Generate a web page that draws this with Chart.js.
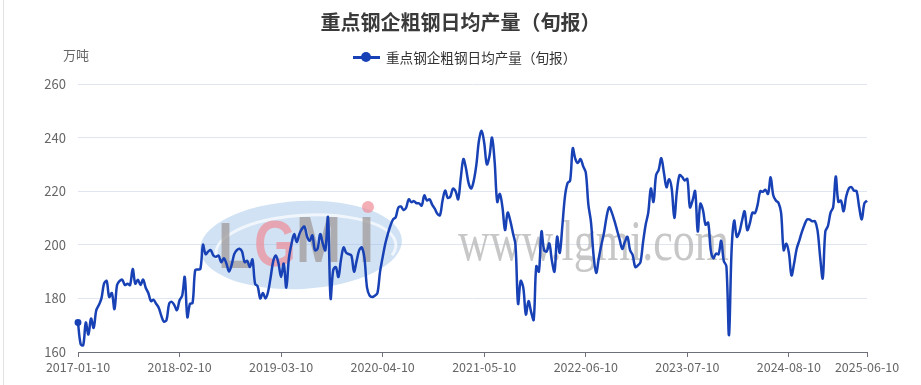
<!DOCTYPE html>
<html>
<head>
<meta charset="utf-8">
<script src="https://cdn.jsdelivr.net/npm/chart.js@4.4.1/dist/chart.umd.min.js"></script>
<style>
  html, body { margin: 0; padding: 0; background: #fff; }
  #wrap { position: relative; width: 921px; height: 385px; overflow: hidden; font-family: "Noto Sans CJK SC", "Noto Sans", sans-serif; }
  #edge { position: absolute; left: 3px; top: 0; width: 1px; height: 385px; background: #e2e2e2; }
  #title { position: absolute; left: 0; width: 921px; top: 7px; text-align: center; font-size: 20px; font-weight: bold; color: #3a3a3a; }
  #unit { position: absolute; left: 63px; top: 45px; font-size: 13px; color: #666; }
  #legend { position: absolute; left: 353px; top: 47px; font-size: 13.6px; color: #333; display: flex; align-items: center; }
  #legend .ico { position: relative; width: 27px; height: 14px; margin-right: 6px; }
  #legend .ico i { position: absolute; left: 0; top: 6px; width: 27px; height: 2.5px; background: #1741b5; }
  #legend .ico b { position: absolute; left: 8px; top: 2px; width: 10px; height: 10px; border-radius: 50%; background: #1741b5; }
  canvas { position: absolute; left: 0; top: 0; }
</style>
</head>
<body>
<div id="wrap">
  <div id="edge"></div>
  <canvas id="chart" width="921" height="385"></canvas>
  <div id="title">重点钢企粗钢日均产量（旬报）</div>
  <div id="unit">万吨</div>
  <div id="legend"><span class="ico"><i></i><b></b></span>重点钢企粗钢日均产量（旬报）</div>
</div>
<script>
// 旬度日期 2017-01-10 ~ 2025-06-10
const labels = [];
for (let y = 2017; y <= 2025; y++) {
  for (let m = 1; m <= 12; m++) {
    const mm = String(m).padStart(2, '0');
    const last = new Date(y, m, 0).getDate();
    [10, 20, last].forEach(d => labels.push(`${y}-${mm}-${d}`));
  }
}
labels.splice(labels.indexOf('2025-06-10') + 1);

const output = [
  171, 163, 162.5, 171, 166.5, 172.5, 169, 175.5, 177.5, 180,
  185.5, 186.5, 180.5, 182, 176, 185, 186.5, 187, 185, 185.5,
  185, 191, 185.5, 187, 185, 187, 184, 182, 179, 179.5,
  178, 176.5, 173.5, 171.3, 172, 178, 178.7, 177.5, 175.6, 179.3,
  181, 188, 173, 178, 178.3, 190.5, 190.8, 191, 200, 196.5,
  197.5, 198, 196, 195.5, 196, 193.5, 195, 193, 190, 192.5,
  196.5, 198, 198.5, 197.5, 193.5, 194, 191.7, 194.5, 185.5, 184.5,
  180, 182, 180, 182.5, 188, 194, 196, 193, 188, 193,
  184, 195, 200.4, 204, 201, 204, 206, 206.8, 203, 201.5,
  203.5, 198, 198.5, 204, 200.5, 198, 210.3, 180, 190.5, 191.7,
  188, 194.5, 199, 197, 196.5, 196, 190, 194, 198, 199,
  195, 184, 181, 180.5, 181, 182, 190, 195.4, 200.4, 204.1,
  207.2, 209.5, 210.3, 213.8, 214.3, 213, 213.8, 217, 215.9, 216.3,
  215.5, 215.5, 214.6, 218.4, 216.5, 217, 215, 213.5, 211.6, 211,
  216.5, 220.2, 217.5, 218, 221, 220, 217, 225, 232, 228.5,
  223, 221, 224, 230, 239, 242.5, 238, 230, 233, 240,
  231, 216, 219, 214, 205.5, 212, 209, 204.5, 200, 178,
  186.5, 184, 174, 179, 175, 172, 192, 190, 205, 198,
  197.5, 200.5, 194, 190, 203, 197, 207, 218, 223, 224,
  236, 232, 230.5, 232, 229.3, 227, 215, 208.5, 196, 189.5,
  195, 200, 204.5, 210.5, 214, 212, 209, 205.5, 202, 198.5,
  201, 203, 198, 196.2, 191.7, 192.3, 193.5, 201, 207.5, 212,
  221, 216, 226, 228, 232.3, 227, 221.5, 224.5, 221, 210,
  220, 226, 225.3, 224, 224.6, 214, 216.5, 220, 205, 215.3,
  213, 207.5, 208.3, 198, 195, 196.7, 196.5, 201.5, 194, 192,
  166.3, 198, 209, 203, 204.7, 209, 212.5, 205.5, 208, 212,
  211.8, 215, 220, 219.8, 220.5, 219, 225.2, 218.5, 216.5, 215.7,
  212, 198, 200.4, 197, 188.6, 193, 198.5, 201.6, 204.8, 207.5,
  209.5, 209.4, 208.8, 208.8, 205.4, 195.5, 187.5, 205, 207, 212,
  214, 225.5, 216, 216.5, 212.5, 218, 221, 221.5, 220.2, 220,
  214, 209.5, 215.5, 216.5
];

const tickDates = ['2017-01-10', '2018-02-10', '2019-03-10', '2020-04-10', '2021-05-10',
                   '2022-06-10', '2023-07-10', '2024-08-10', '2025-06-10'];
const tickIdx = tickDates.map(d => labels.indexOf(d));

const lineColor = '#1741b5';

// 水印 LGMI
const watermark = {
  id: 'watermark',
  beforeDatasetsDraw(chart) {
    const c = chart.ctx;
    c.save();
    c.beginPath();
    c.ellipse(301, 245, 101, 44, -0.05, 0, Math.PI * 2);
    c.fillStyle = 'rgba(150,190,230,0.45)';
    c.fill();
    c.beginPath();
    c.ellipse(306, 249, 90, 34, -0.05, Math.PI * 0.95, Math.PI * 2.1);
    c.strokeStyle = 'rgba(255,255,255,0.7)';
    c.lineWidth = 3;
    c.stroke();
    c.save();
    c.translate(0, 268);
    c.scale(1, 1.2);
    c.font = 'bold 54px "Liberation Sans"';
    c.textBaseline = 'alphabetic';
    c.fillStyle = 'rgba(165,160,160,0.8)';
    c.fillText('L', 218, 0);
    c.fillStyle = 'rgba(240,140,150,0.7)';
    c.fillText('G', 254, -2);
    c.fillStyle = 'rgba(165,160,160,0.8)';
    c.fillText('M', 296, -5);
    c.fillText('I', 359, -5);
    c.restore();
    c.beginPath();
    c.arc(368, 207, 6, 0, Math.PI * 2);
    c.fillStyle = 'rgba(240,140,150,0.7)';
    c.fill();
    c.translate(458, 260);
    c.scale(1, 1.3);
    c.font = '44px "Liberation Serif"';
    c.fillStyle = 'rgba(175,175,175,0.7)';
    c.fillText('www.lgmi.com', 0, 0);
    c.restore();
  }
};

new Chart(document.getElementById('chart').getContext('2d'), {
  type: 'line',
  data: {
    labels: labels,
    datasets: [{
      label: '重点钢企粗钢日均产量（旬报）',
      data: output,
      borderColor: lineColor,
      backgroundColor: lineColor,
      borderWidth: 2.5,
      tension: 0.35,
      pointRadius: ctx => ctx.dataIndex === 0 ? 2.2 : 0,
      pointHoverRadius: 0,
      fill: false
    }]
  },
  options: {
    responsive: false,
    animation: false,
    layout: { padding: { left: 0, top: 84, right: 54, bottom: 0 } },
    plugins: { legend: { display: false }, title: { display: false }, tooltip: { enabled: false } },
    scales: {
      x: {
        type: 'category',
        offset: false,
        afterBuildTicks: ax => { ax.ticks = tickIdx.map(v => ({ value: v })); },
        afterFit: ax => { ax.height = 33; },
        grid: { drawOnChartArea: false, drawTicks: true, tickLength: 5, color: '#6e7079' },
        border: { color: '#6e7079' },
        ticks: {
          autoSkip: false, maxRotation: 0, padding: 3, color: '#666',
          font: { family: '"Noto Sans CJK SC", sans-serif', size: 12.5 },
          callback: v => labels[v]
        }
      },
      y: {
        min: 160, max: 260,
        afterFit: ax => { ax.width = 78; },
        grid: { color: '#e0e6f1', drawTicks: false },
        border: { display: false },
        ticks: {
          stepSize: 20, padding: 12, color: '#666',
          font: { family: '"Noto Sans CJK SC", sans-serif', size: 13 }
        }
      }
    }
  },
  plugins: [watermark]
});
</script>
</body>
</html>
